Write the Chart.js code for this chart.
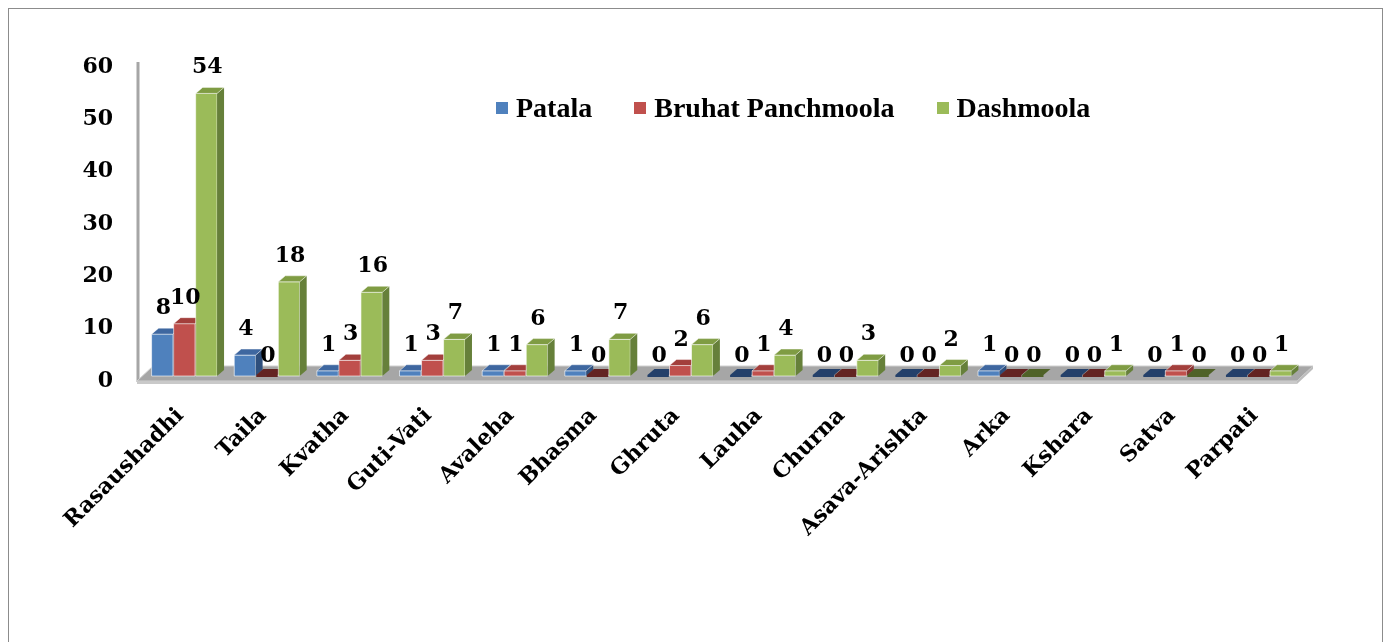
<!DOCTYPE html>
<html>
<head>
<meta charset="utf-8">
<title>Formulations</title>
<script src="https://cdn.jsdelivr.net/npm/chart.js@4.4.1/dist/chart.umd.min.js"></script>
<style>
  html, body { margin: 0; padding: 0; background: #fff; overflow: hidden; }
  #wrap { position: relative; width: 1391px; height: 642px; }
  #frame { position: absolute; left: 8px; top: 8px; width: 1375px; height: 700px;
           border: 1.5px solid #8c8c8c; box-sizing: border-box; pointer-events: none; }
  #legend { position: absolute; left: 496px; top: 92px; display: flex; gap: 42px;
            font: bold 28px "Liberation Serif", serif; line-height: 32px; color: #000; }
  .item { display: flex; align-items: center; }
  .sw { width: 12px; height: 12px; margin-right: 8px; }
</style>
</head>
<body>
<div id="wrap">
  <canvas id="chart"></canvas>
  <div id="frame"></div>
  <div id="legend"></div>
</div>
<script>
const categories = ['Rasaushadhi', 'Taila', 'Kvatha', 'Guti-Vati', 'Avaleha', 'Bhasma', 'Ghruta',
                    'Lauha', 'Churna', 'Asava-Arishta', 'Arka', 'Kshara', 'Satva', 'Parpati'];
const patala           = [8, 4, 1, 1, 1, 1, 0, 0, 0, 0, 1, 0, 0, 0];
const bruhatPanchmoola = [10, 0, 3, 3, 1, 0, 2, 1, 0, 0, 0, 0, 1, 0];
const dashmoola        = [54, 18, 16, 7, 6, 7, 6, 4, 3, 2, 0, 1, 0, 1];
const seriesNames = ['Patala', 'Bruhat Panchmoola', 'Dashmoola'];
const yMin = 0, yMax = 60, yStep = 10;

// colours for the fake 3D faces
const frontColors = ['#4F81BD', '#C0504D', '#9BBB59'];
const topColors   = ['#3E67A0', '#A33F3C', '#7F9C43'];
const sideColors  = ['#2E4F7C', '#873230', '#66803A'];
const flatColors  = ['#24406A', '#632422', '#4F6228'];
const DX = 7, DY = 6;

function poly(ctx, pts, fill, stroke) {
    ctx.beginPath();
    ctx.moveTo(pts[0][0], pts[0][1]);
    for (let k = 1; k < pts.length; k++) ctx.lineTo(pts[k][0], pts[k][1]);
    ctx.closePath();
    ctx.fillStyle = fill;
    ctx.fill();
    if (stroke) {
        ctx.strokeStyle = stroke;
        ctx.lineWidth = 1;
        ctx.stroke();
    }
}

const bars3d = {
    id: 'bars3d',
    beforeDatasetsDraw(chart) {
        const ctx = chart.ctx;
        const area = chart.chartArea;
        const base = chart.scales.y.getPixelForValue(0);
        const l = area.left, r = area.right;
        ctx.save();
        // back wall edge
        ctx.strokeStyle = '#A6A6A6';
        ctx.lineWidth = 3;
        ctx.beginPath();
        ctx.moveTo(l - 5, area.top);
        ctx.lineTo(l - 5, base + 6);
        ctx.stroke();
        // floor
        poly(ctx, [[l - 6, base + 5], [r - 3, base + 5], [r + 13, base - 10], [l + 10, base - 10]], '#A6A6A6', '#D0D0D0');
        poly(ctx, [[l - 6, base + 5], [r - 3, base + 5], [r - 3, base + 8], [l - 6, base + 8]], '#C9C9C9');
        poly(ctx, [[r - 3, base + 5], [r + 13, base - 10], [r + 13, base - 7], [r - 3, base + 8]], '#BDBDBD');
        ctx.restore();
    },
    afterDatasetsDraw(chart) {
        const ctx = chart.ctx;
        const metas = chart.data.datasets.map((ds, i) => chart.getDatasetMeta(i));
        ctx.save();
        // faces, left to right inside each group so neighbours hide side faces
        categories.forEach((c, j) => {
            metas.forEach((meta, i) => {
                const v = chart.data.datasets[i].data[j];
                const {x, y, base, width} = meta.data[j].getProps(['x', 'y', 'base', 'width'], true);
                const l = x - width / 2, r = x + width / 2;
                if (v === 0) {
                    const b = base - 1;
                    poly(ctx, [[l, b], [r, b], [r + DX, b - DY], [l + DX, b - DY]], flatColors[i]);
                    poly(ctx, [[l, b], [r, b], [r, b + 2], [l, b + 2]], flatColors[i]);
                } else {
                    poly(ctx, [[l, y], [r, y], [r, base], [l, base]], frontColors[i], 'rgba(255,255,255,0.6)');
                    poly(ctx, [[r, y], [r + DX, y - DY], [r + DX, base - DY], [r, base]], sideColors[i]);
                    poly(ctx, [[l, y], [r, y], [r + DX, y - DY], [l + DX, y - DY]], topColors[i], 'rgba(255,255,255,0.45)');
                }
            });
        });
        // value labels
        ctx.fillStyle = '#000';
        ctx.font = 'bold 22px "DejaVu Serif"';
        ctx.textAlign = 'center';
        ctx.textBaseline = 'alphabetic';
        chart.data.datasets.forEach((ds, i) => {
            metas[i].data.forEach((bar, j) => {
                const {x, y} = bar.getProps(['x', 'y'], true);
                ctx.fillText(String(ds.data[j]), x + 1, y - (ds.data[j] ? 20 : 14));
            });
        });
        ctx.restore();
    }
};

function buildLegend() {
    const box = document.getElementById('legend');
    box.innerHTML = seriesNames.map((name, i) => `
        <div class="item"><span class="sw" style="background:${frontColors[i]}"></span>${name}</div>
    `).join('');
}

function renderChart() {
    const ctx = document.getElementById('chart').getContext('2d');
    const seriesData = [patala, bruhatPanchmoola, dashmoola];

    new Chart(ctx, {
        type: 'bar',
        data: {
            labels: categories,
            datasets: seriesData.map((d, i) => ({
                label: seriesNames[i],
                data: d,
                backgroundColor: frontColors[i],
                borderColor: 'rgba(255,255,255,0.6)',
                borderWidth: 1,
                borderSkipped: 'bottom',
                categoryPercentage: 0.8,
                barPercentage: 0.97
            }))
        },
        options: {
            responsive: true,
            maintainAspectRatio: false,
            animation: false,
            layout: { padding: { top: 62, right: 91, left: 0, bottom: 0 } },
            scales: {
                x: {
                    grid: { display: false, drawTicks: false },
                    border: { display: false },
                    ticks: {
                        autoSkip: false,
                        minRotation: 45,
                        maxRotation: 45,
                        padding: 27,
                        labelOffset: -4,
                        color: '#000',
                        font: { family: 'DejaVu Serif', weight: 'bold', size: 22 }
                    },
                    afterFit: (s) => { s.height = 266; }
                },
                y: {
                    min: yMin,
                    max: yMax,
                    grid: { display: false, drawTicks: false },
                    border: { display: false },
                    ticks: {
                        stepSize: yStep,
                        padding: 30,
                        labelOffset: 5,
                        color: '#000',
                        font: { family: 'DejaVu Serif', weight: 'bold', size: 22 }
                    },
                    afterFit: (s) => { s.width = 143; }
                }
            },
            plugins: {
                legend: { display: false },
                tooltip: { enabled: false }
            }
        },
        plugins: [bars3d]
    });
}

document.addEventListener('DOMContentLoaded', () => {
    buildLegend();
    renderChart();
});
</script>
</body>
</html>
